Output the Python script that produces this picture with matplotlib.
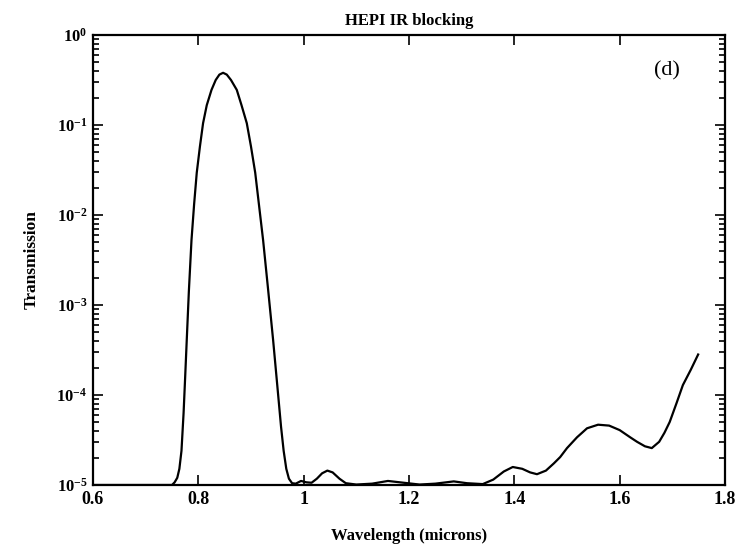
import numpy as np
import matplotlib
matplotlib.use('Agg')
from matplotlib import pyplot as plt
from matplotlib.ticker import LogLocator, NullFormatter, FixedLocator, FixedFormatter

# Wavelength (microns) and log10 of transmission
wavelength = [0.60, 0.75, 0.755, 0.760, 0.764, 0.768, 0.772, 0.775, 0.778, 0.782,
              0.787, 0.792, 0.797, 0.803, 0.809, 0.816, 0.825, 0.833, 0.840, 0.847,
              0.854, 0.862, 0.873, 0.882, 0.892, 0.900, 0.908, 0.915, 0.923, 0.932,
              0.942, 0.950, 0.957, 0.962, 0.967, 0.972, 0.978, 0.985, 0.995, 1.005,
              1.015, 1.025, 1.035, 1.045, 1.055, 1.068, 1.08, 1.10, 1.13, 1.16,
              1.19, 1.22, 1.25, 1.285, 1.31, 1.34, 1.36, 1.38, 1.397, 1.415,
              1.43, 1.443, 1.46, 1.475, 1.487, 1.50, 1.519, 1.538, 1.559, 1.58,
              1.60, 1.62, 1.633, 1.648, 1.661, 1.675, 1.685, 1.695, 1.708, 1.72,
              1.735, 1.749]
log_trans = [-5.0, -5.0, -4.97, -4.92, -4.82, -4.62, -4.2, -3.8, -3.39, -2.85,
             -2.28, -1.88, -1.53, -1.24, -0.98, -0.78, -0.61, -0.50, -0.44, -0.42,
             -0.44, -0.50, -0.61, -0.78, -0.98, -1.24, -1.53, -1.88, -2.28, -2.8,
             -3.39, -3.9, -4.35, -4.62, -4.82, -4.93, -4.98, -4.985, -4.955, -4.97,
             -4.975, -4.93, -4.87, -4.84, -4.86, -4.93, -4.98, -4.995, -4.985, -4.955,
             -4.975, -4.995, -4.985, -4.96, -4.98, -4.99, -4.94, -4.85, -4.80, -4.82,
             -4.86, -4.88, -4.84, -4.76, -4.69, -4.59, -4.47, -4.37, -4.33, -4.34,
             -4.39, -4.47, -4.52, -4.57, -4.59, -4.52, -4.42, -4.30, -4.09, -3.89,
             -3.72, -3.55]

x_ticks = [0.6, 0.8, 1.0, 1.2, 1.4, 1.6, 1.8]
x_labels = ['0.6', '0.8', '1', '1.2', '1.4', '1.6', '1.8']
y_ticks = [1e-5, 1e-4, 1e-3, 1e-2, 1e-1, 1e0]
y_labels = ['$10^{-5}$', '$10^{-4}$', '$10^{-3}$', '$10^{-2}$', '$10^{-1}$', '$10^{0}$']

plt.rcParams['font.family'] = 'Liberation Serif'
plt.rcParams['mathtext.fontset'] = 'custom'
plt.rcParams['mathtext.rm'] = 'Liberation Serif:bold'
plt.rcParams['mathtext.it'] = 'Liberation Serif:bold'
plt.rcParams['mathtext.bf'] = 'Liberation Serif:bold'

trans = 10 ** np.array(log_trans)

fig = plt.figure(figsize=(7.44, 5.54), dpi=100)
ax = fig.add_axes([93 / 744, 1 - 485 / 554, (725 - 93) / 744, (485 - 35) / 554])
ax.plot(wavelength, trans, color='black', linewidth=1.6)

ax.set_yscale('log')
ax.set_xlim(0.6, 1.8)
ax.set_ylim(1e-5, 1)

ax.xaxis.set_major_locator(FixedLocator(x_ticks))
ax.xaxis.set_major_formatter(FixedFormatter(x_labels))
ax.yaxis.set_major_locator(FixedLocator(y_ticks))
ax.yaxis.set_major_formatter(FixedFormatter(y_labels))
ax.yaxis.set_minor_locator(LogLocator(base=10, subs=np.arange(2, 10)))
ax.yaxis.set_minor_formatter(NullFormatter())

ax.tick_params(which='both', direction='in', top=True, right=True, width=1.2)
ax.tick_params(which='major', length=7)
ax.tick_params(which='minor', length=4)
ax.tick_params(axis='x', labelsize=13, pad=4)
ax.tick_params(axis='y', labelsize=12, pad=4)
for lbl in ax.get_xticklabels():
    lbl.set_fontweight('bold')
for spine in ax.spines.values():
    spine.set_linewidth(1.6)

ax.set_title('HEPI IR blocking', fontsize=12, fontweight='bold', pad=7)
ax.set_xlabel('Wavelength (microns)', fontsize=12, fontweight='bold', labelpad=15)
ax.set_ylabel('Transmission', fontsize=12.5, fontweight='bold', labelpad=12)
ax.text(1.69, 10 ** -0.4, '(d)', fontsize=16, ha='center', va='center')

fig.savefig('out.png', dpi=100)
